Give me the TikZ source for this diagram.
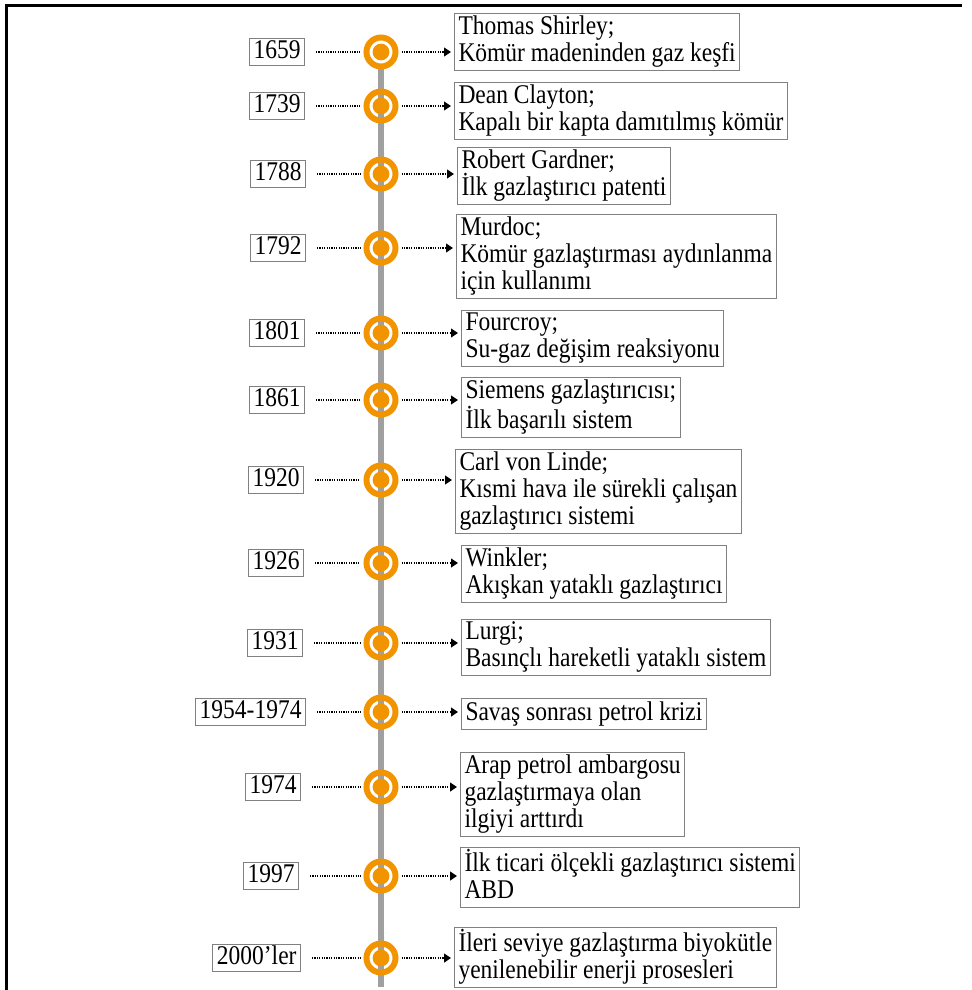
\documentclass[tikz,border=0pt]{standalone}
\usepackage{fontspec}
\setmainfont{Liberation Serif}[FakeStretch=0.87]
\usetikzlibrary{arrows.meta}

\definecolor{punktorange}{RGB}{242,148,0}
\definecolor{achsgrau}{RGB}{160,160,160}
\definecolor{rahmengrau}{RGB}{128,128,128}

\newcommand{\zeilenstrut}{\rule[-3.5pt]{0pt}{13.5pt}}

\begin{document}
\begin{tikzpicture}[x=0.5pt, y=-0.5pt,
	jahr/.style={draw=rahmengrau, line width=0.5pt, inner xsep=2pt, inner ysep=0pt, anchor=east,
		font=\fontsize{13.5}{13.5}\selectfont, execute at begin node=\zeilenstrut},
	ereignis/.style={draw=rahmengrau, line width=0.5pt, inner xsep=2pt, inner ysep=1pt,
		align=left, anchor=north west, font=\fontsize{13.5}{13.5}\selectfont,
		execute at begin node=\zeilenstrut, execute at end node=\zeilenstrut},
	ring/.style={circle, draw=punktorange, line width=3pt, minimum size=14.5pt, inner sep=0pt,
		path picture={\fill[punktorange] (path picture bounding box.center) circle (4.2pt);}},
	punktlinie/.style={line width=0.6pt, dash pattern=on 0.6pt off 0.6pt, shorten >=1.5pt},
	pfeil/.style={punktlinie, shorten <=1.5pt, -{Triangle[length=3.5pt,width=4.5pt]}}
	]
	
	\useasboundingbox (0,0) rectangle (971,990);
	
	% Rahmen oben und links
	\draw[line width=1.5pt] (6,990) -- (6,6) -- (962,6);
	
	% Zeitachse
	\coordinate (achseoben) at (381,69);
	\coordinate (achseunten) at (381,987);
	\draw[achsgrau, line width=3pt] (achseoben) -- (achseunten);
	
	% 1659
	\node[jahr] (j1) at (305,52) {1659};
	\node[ring] (r1) at (381,52) {};
	\node[ereignis] (e1) at (454,13) {Thomas Shirley;\\Kömür madeninden gaz keşfi};
	\draw[punktlinie, shorten <=5.5pt] (j1) -- (r1);
	\draw[pfeil] (r1) -- (r1 -| e1.west);
	
	% 1739
	\node[jahr] (j2) at (305,106) {1739};
	\node[ring] (r2) at (381,106) {};
	\node[ereignis] (e2) at (454,82) {Dean Clayton;\\Kapalı bir kapta damıtılmış kömür};
	\draw[punktlinie, shorten <=5.5pt] (j2) -- (r2);
	\draw[pfeil] (r2) -- (r2 -| e2.west);
	
	% 1788
	\node[jahr] (j3) at (306,174) {1788};
	\node[ring] (r3) at (381,174) {};
	\node[ereignis] (e3) at (457,147) {Robert Gardner;\\İlk gazlaştırıcı patenti};
	\draw[punktlinie, shorten <=5.5pt] (j3) -- (r3);
	\draw[pfeil] (r3) -- (r3 -| e3.west);
	
	% 1792
	\node[jahr] (j4) at (306,248) {1792};
	\node[ring] (r4) at (381,248) {};
	\node[ereignis] (e4) at (456,214) {Murdoc;\\Kömür gazlaştırması aydınlanma\\için kullanımı};
	\draw[punktlinie, shorten <=5.5pt] (j4) -- (r4);
	\draw[pfeil] (r4) -- (r4 -| e4.west);
	
	% 1801
	\node[jahr] (j5) at (305,333) {1801};
	\node[ring] (r5) at (381,333) {};
	\node[ereignis] (e5) at (461,310) {Fourcroy;\\Su-gaz değişim reaksiyonu};
	\draw[punktlinie, shorten <=5.5pt] (j5) -- (r5);
	\draw[pfeil] (r5) -- (r5 -| e5.west);
	
	% 1861
	\node[jahr] (j6) at (305,400) {1861};
	\node[ring] (r6) at (381,400) {};
	\node[ereignis] (e6) at (461,377) {Siemens gazlaştırıcısı;\\İlk başarılı sistem};
	\draw[punktlinie, shorten <=5.5pt] (j6) -- (r6);
	\draw[pfeil] (r6) -- (r6 -| e6.west);
	
	% 1920
	\node[jahr] (j7) at (304,480) {1920};
	\node[ring] (r7) at (381,480) {};
	\node[ereignis] (e7) at (455,449) {Carl von Linde;\\Kısmi hava ile sürekli çalışan\\gazlaştırıcı sistemi};
	\draw[punktlinie, shorten <=5.5pt] (j7) -- (r7);
	\draw[pfeil] (r7) -- (r7 -| e7.west);
	
	% 1926
	\node[jahr] (j8) at (304,563) {1926};
	\node[ring] (r8) at (381,563) {};
	\node[ereignis] (e8) at (461,545) {Winkler;\\Akışkan yataklı gazlaştırıcı};
	\draw[punktlinie, shorten <=5.5pt] (j8) -- (r8);
	\draw[pfeil] (r8) -- (r8 -| e8.west);
	
	% 1931
	\node[jahr] (j9) at (303,643) {1931};
	\node[ring] (r9) at (381,643) {};
	\node[ereignis] (e9) at (461,619) {Lurgi;\\Basınçlı hareketli yataklı sistem};
	\draw[punktlinie, shorten <=5.5pt] (j9) -- (r9);
	\draw[pfeil] (r9) -- (r9 -| e9.west);
	
	% 1954-1974
	\node[jahr] (j10) at (306,712) {1954-1974};
	\node[ring] (r10) at (381,712) {};
	\node[ereignis] (e10) at (461,698) {Savaş sonrası petrol krizi};
	\draw[punktlinie, shorten <=5.5pt] (j10) -- (r10);
	\draw[pfeil] (r10) -- (r10 -| e10.west);
	
	% 1974
	\node[jahr] (j11) at (301,787) {1974};
	\node[ring] (r11) at (381,787) {};
	\node[ereignis] (e11) at (460,752) {Arap petrol ambargosu\\gazlaştırmaya olan\\ilgiyi arttırdı};
	\draw[punktlinie, shorten <=5.5pt] (j11) -- (r11);
	\draw[pfeil] (r11) -- (r11 -| e11.west);
	
	% 1997
	\node[jahr] (j12) at (299,876) {1997};
	\node[ring] (r12) at (381,876) {};
	\node[ereignis] (e12) at (460,847) {İlk ticari ölçekli gazlaştırıcı sistemi\\ABD};
	\draw[punktlinie, shorten <=5.5pt] (j12) -- (r12);
	\draw[pfeil] (r12) -- (r12 -| e12.west);
	
	% 2000'ler
	\node[jahr] (j13) at (301,958) {2000’ler};
	\node[ring] (r13) at (381,958) {};
	\node[ereignis] (e13) at (454,927) {İleri seviye gazlaştırma biyokütle\\yenilenebilir enerji prosesleri};
	\draw[punktlinie, shorten <=5.5pt] (j13) -- (r13);
	\draw[pfeil] (r13) -- (r13 -| e13.west);
	
\end{tikzpicture}
\end{document}
